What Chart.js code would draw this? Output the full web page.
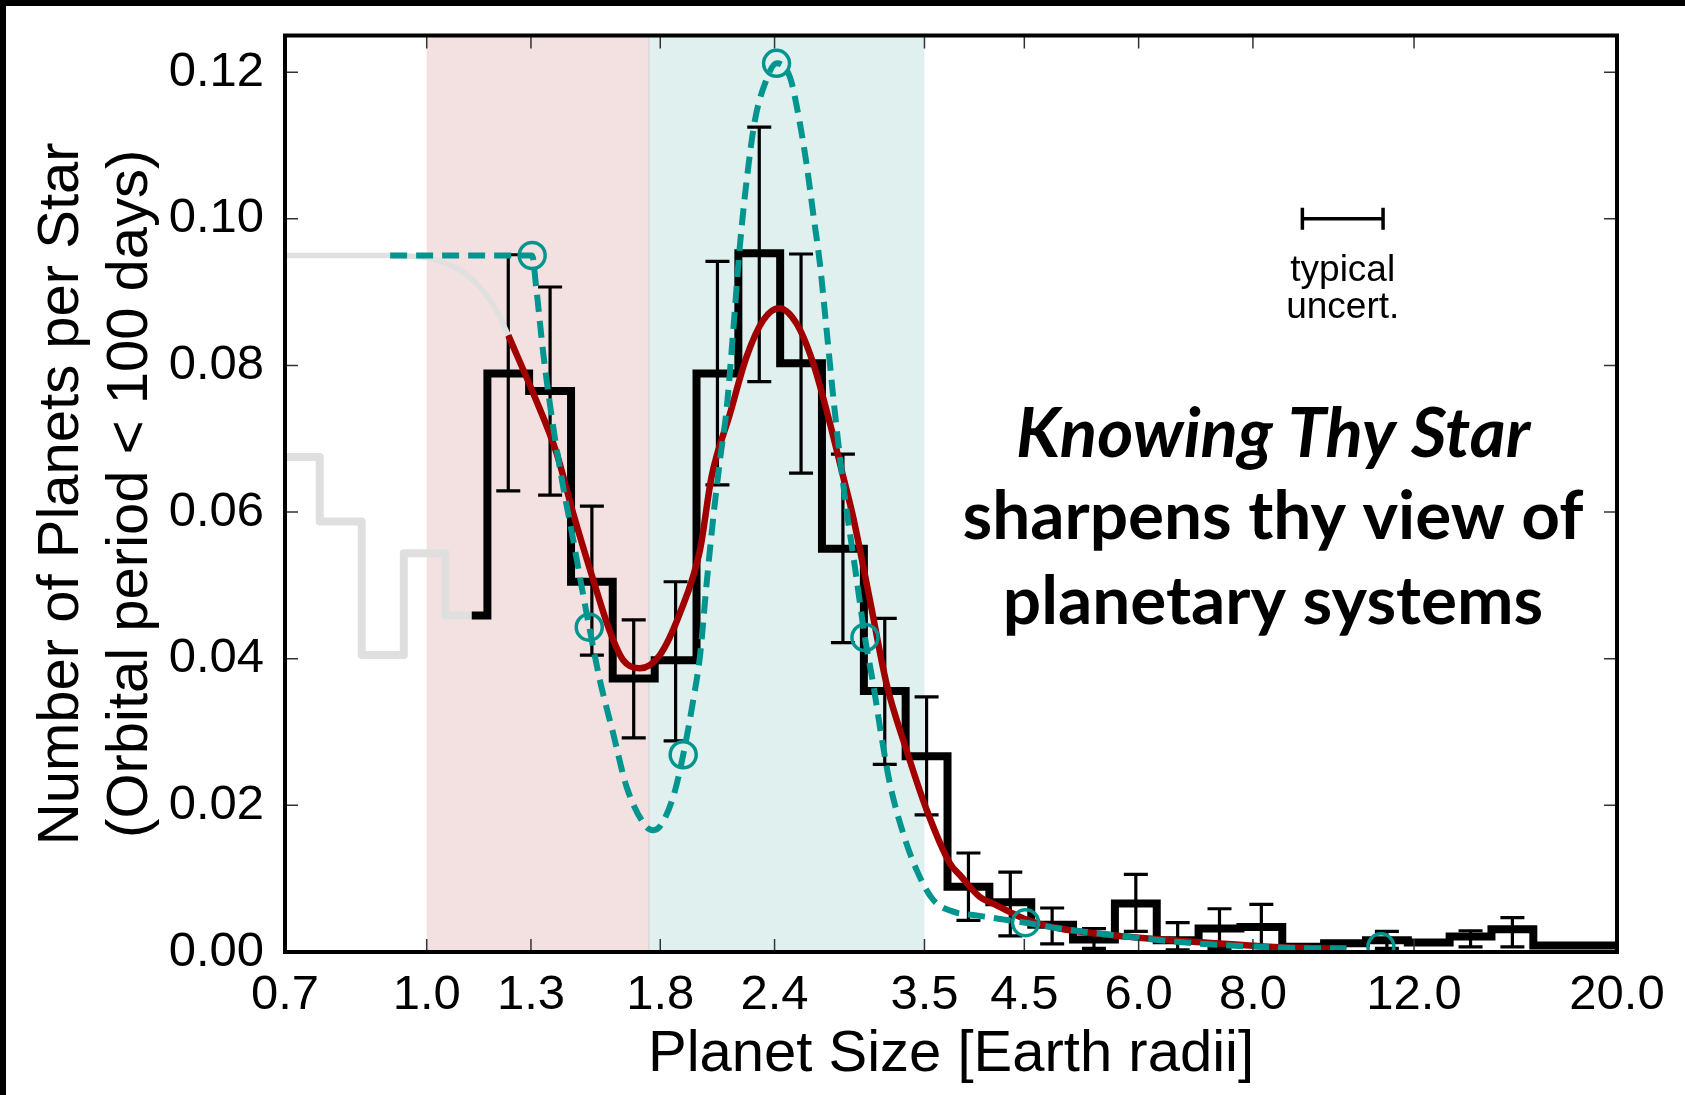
<!DOCTYPE html>
<html>
<head>
<meta charset="utf-8">
<title>Planet size distribution</title>
<script src="https://cdn.jsdelivr.net/npm/chart.js@4.4.1/dist/chart.umd.min.js"></script>
<style>
  html, body { margin: 0; padding: 0; background: #fff; }
  #wrap { width: 1685px; height: 1095px; }
</style>
</head>
<body>
<div id="wrap"><canvas id="sizeChart" width="1685" height="1095"></canvas></div>
<script>
// tick labels
const xTicks = [0.7, 1.0, 1.3, 1.8, 2.4, 3.5, 4.5, 6.0, 8.0, 12.0, 20.0];
const yTicks = [0.00, 0.02, 0.04, 0.06, 0.08, 0.10, 0.12];

// shaded size ranges (super-Earths, sub-Neptunes)
const bandRanges = [[1.0, 1.75], [1.75, 3.5]];
const bandColors = ["#f3e1e1", "#dff0ef"];

// older histogram (grey), bin edges and rates
const greyEdges = [0.7, 0.764, 0.849, 0.944, 1.048, 1.12];
const greyRate = [0.0675, 0.0587, 0.0405, 0.0544, 0.0459];

// CKS histogram (black), bin edges and rates
const blackEdges = [1.12, 1.165, 1.294, 1.438, 1.597, 1.775, 1.972, 2.191, 2.434, 2.704,
  3.005, 3.338, 3.709, 4.121, 4.579, 5.087, 5.652, 6.280, 6.977, 7.752,
  8.613, 9.569, 10.632, 11.813, 13.125, 14.582, 16.202, 18.001, 20.0];
const blackRate = [0.0459, 0.0789, 0.0765, 0.0505, 0.0373, 0.0398, 0.0789, 0.0953, 0.0803, 0.0550,
  0.0356, 0.0267, 0.0089, 0.0068, 0.0037, 0.0017, 0.0066, 0.0016, 0.0032, 0.0034,
  0.0007, 0.0012, 0.0016, 0.0013, 0.0021, 0.0031, 0.0009, 0.0009];
const errLow = [null, 0.0629, 0.0623, 0.0405, 0.0292, 0.0288, 0.0637, 0.0778, 0.0653, 0.0422,
  0.0256, 0.0187, 0.0043, 0.0022, 0.0011, 0.0005, 0.0028, 0.0003, 0.0005, 0.0008,
  null, null, 0.0005, null, 0.0007, 0.0007, null, null];
const errHigh = [null, 0.0951, 0.0907, 0.0608, 0.0453, 0.0505, 0.0942, 0.1125, 0.0952, 0.0679,
  0.0455, 0.0348, 0.0135, 0.0109, 0.0060, 0.0032, 0.0106, 0.0040, 0.0059, 0.0065,
  null, null, 0.0028, null, 0.0029, 0.0047, null, null];

// faded start of the smooth fit
const greyCurveX = [0.7, 0.912, 1.008, 1.087, 1.143, 1.192, 1.228];
const greyCurveY = [0.0950, 0.0950, 0.0946, 0.0930, 0.0907, 0.0875, 0.0841];

// smooth fit (red)
const redX = [1.228, 1.3075, 1.387, 1.446, 1.521, 1.586, 1.640, 1.710, 1.798, 1.891,
  1.989, 2.048, 2.145, 2.237, 2.333, 2.428, 2.537, 2.645, 2.759, 2.853,
  2.925, 3.051, 3.181, 3.346, 3.519, 3.731, 3.826, 4.024, 4.161, 4.526,
  4.921, 5.82, 6.882, 8.14, 9.46, 10.12];
const redY = [0.0841, 0.0762, 0.0680, 0.0598, 0.0507, 0.0437, 0.0398, 0.0387, 0.0405, 0.0462,
  0.0548, 0.0648, 0.0734, 0.0812, 0.0862, 0.0878, 0.0857, 0.0803, 0.0721, 0.0648,
  0.0593, 0.0480, 0.0366, 0.0275, 0.0194, 0.0121, 0.0105, 0.0075, 0.0066, 0.0044,
  0.0032, 0.0021, 0.0014, 0.0008, 0.0005, 0.0004];

// deconvolved spline (teal dashed)
const tealX = [0.912, 1.304, 1.3166, 1.341, 1.375, 1.410, 1.446, 1.477, 1.5055, 1.546,
  1.599, 1.654, 1.732, 1.768, 1.798, 1.860, 1.907, 1.956, 1.989, 2.023,
  2.057, 2.092, 2.127, 2.163, 2.199, 2.237, 2.284, 2.342, 2.412, 2.495,
  2.547, 2.601, 2.645, 2.690, 2.736, 2.782, 2.829, 2.877, 2.938, 3.013,
  3.076, 3.129, 3.208, 3.317, 3.431, 3.578, 3.762, 3.990, 4.232, 4.514,
  4.921, 5.82, 6.882, 8.14, 9.46, 10.12];
const tealY = [0.0950, 0.0950, 0.0909, 0.0816, 0.0716, 0.0634, 0.0562, 0.0498, 0.0443, 0.0371,
  0.0298, 0.0225, 0.0173, 0.0166, 0.0171, 0.0212, 0.0269, 0.0344, 0.0403, 0.0503,
  0.0593, 0.0671, 0.0740, 0.0848, 0.0962, 0.1052, 0.1134, 0.1184, 0.1212, 0.1193,
  0.1143, 0.1075, 0.1007, 0.0939, 0.0848, 0.0757, 0.0675, 0.0603, 0.0525, 0.0429,
  0.0366, 0.0307, 0.0230, 0.0162, 0.0112, 0.0071, 0.0055, 0.0050, 0.0045, 0.0040,
  0.0032, 0.0021, 0.0012, 0.0007, 0.0005, 0.0005];

// spline knots (teal circles)
const knotX = [1.304, 1.5055, 1.907, 2.412, 3.013, 4.514, 11.04];
const knotY = [0.0950, 0.0443, 0.0269, 0.1212, 0.0429, 0.0040, 0.0007];

// typical uncertainty bar
const typicalUncert = [9.06, 11.1];
const typicalUncertY = 0.100;

const FONT = "'Liberation Sans', Arial, Helvetica, sans-serif";
const HEAD_FONT = "Lato, 'Open Sans', sans-serif";
const TEAL = "#00968f";
const RED = "#a00000";

function steps(edges, rates) {
    return edges.map((e, i) => ({ x: e, y: rates[Math.min(i, rates.length - 1)] }));
}
function pairs(xs, ys) {
    return xs.map((v, i) => ({ x: v, y: ys[i] }));
}

const pageBackground = {
    id: "pageBackground",
    beforeDraw(chart) {
        const ctx = chart.ctx;
        ctx.save();
        ctx.fillStyle = "#fff";
        ctx.fillRect(0, 0, chart.width, chart.height);
        ctx.fillStyle = "#000";
        ctx.fillRect(0, 0, chart.width, 6);
        ctx.fillRect(0, 0, 6, chart.height);
        ctx.restore();
    }
};

const bands = {
    id: "bands",
    beforeDatasetsDraw(chart) {
        const { ctx, chartArea: a, scales: { x } } = chart;
        ctx.save();
        bandRanges.forEach((r, i) => {
            const x0 = x.getPixelForValue(r[0]);
            const x1 = x.getPixelForValue(r[1]);
            ctx.fillStyle = bandColors[i];
            ctx.fillRect(x0, a.top, x1 - x0, a.bottom - a.top);
        });
        // faint edge between the two bands
        const xm = x.getPixelForValue(bandRanges[1][0]);
        ctx.strokeStyle = "rgba(0,0,0,0.08)";
        ctx.lineWidth = 1.5;
        ctx.beginPath();
        ctx.moveTo(xm, a.top);
        ctx.lineTo(xm, a.bottom);
        ctx.stroke();
        ctx.restore();
    }
};

// error bars are drawn right after the black histogram
const errorBars = {
    id: "errorBars",
    afterDatasetDraw(chart, args) {
        if (chart.data.datasets[args.index].label !== "CKS") return;
        const { ctx, scales: { x, y } } = chart;
        ctx.save();
        ctx.strokeStyle = "#000";
        ctx.lineWidth = 3.2;
        ctx.beginPath();
        for (let i = 0; i < blackRate.length; i++) {
            if (errLow[i] == null) continue;
            const xc = x.getPixelForValue(Math.sqrt(blackEdges[i] * blackEdges[i + 1]));
            const y0 = y.getPixelForValue(errLow[i]);
            const y1 = y.getPixelForValue(errHigh[i]);
            ctx.moveTo(xc, y0); ctx.lineTo(xc, y1);
            ctx.moveTo(xc - 12, y0); ctx.lineTo(xc + 12, y0);
            ctx.moveTo(xc - 12, y1); ctx.lineTo(xc + 12, y1);
        }
        ctx.stroke();
        ctx.restore();
    }
};

const frame = {
    id: "frame",
    afterDraw(chart) {
        const { ctx, chartArea: a, scales: { x, y } } = chart;
        ctx.save();
        // inward ticks on all four sides
        ctx.strokeStyle = "#333";
        ctx.lineWidth = 1.5;
        ctx.beginPath();
        x.ticks.forEach(t => {
            const px = x.getPixelForValue(t.value);
            ctx.moveTo(px, a.bottom); ctx.lineTo(px, a.bottom - 13);
            ctx.moveTo(px, a.top); ctx.lineTo(px, a.top + 13);
        });
        y.ticks.forEach(t => {
            const py = y.getPixelForValue(t.value);
            ctx.moveTo(a.left, py); ctx.lineTo(a.left + 13, py);
            ctx.moveTo(a.right, py); ctx.lineTo(a.right - 13, py);
        });
        ctx.stroke();
        ctx.strokeStyle = "#000";
        ctx.lineWidth = 4;
        ctx.strokeRect(a.left, a.top, a.right - a.left, a.bottom - a.top);

        // typical uncertainty marker
        const u0 = x.getPixelForValue(typicalUncert[0]);
        const u1 = x.getPixelForValue(typicalUncert[1]);
        const uy = y.getPixelForValue(typicalUncertY);
        ctx.lineWidth = 3.5;
        ctx.beginPath();
        ctx.moveTo(u0, uy); ctx.lineTo(u1, uy);
        ctx.moveTo(u0, uy - 11); ctx.lineTo(u0, uy + 11);
        ctx.moveTo(u1, uy - 11); ctx.lineTo(u1, uy + 11);
        ctx.stroke();
        ctx.fillStyle = "#000";
        ctx.textAlign = "center";
        ctx.textBaseline = "alphabetic";
        ctx.font = "37px " + FONT;
        const um = (u0 + u1) / 2;
        ctx.fillText("typical", um, uy + 62);
        ctx.fillText("uncert.", um, uy + 99);

        // headline text
        const cx = a.left + 988;
        ctx.font = "italic bold 69px " + HEAD_FONT;
        ctx.fillText("Knowing Thy Star", cx, a.top + 421);
        ctx.font = "bold 67.5px " + HEAD_FONT;
        ctx.fillText("sharpens thy view of", cx, a.top + 503);
        ctx.fillText("planetary systems", cx, a.top + 588);
        ctx.restore();
    }
};

new Chart(document.getElementById("sizeChart"), {
    type: "scatter",
    data: {
        datasets: [
            {
                label: "knots",
                data: pairs(knotX, knotY),
                showLine: false,
                pointStyle: "circle",
                pointRadius: 13,
                pointBorderWidth: 3.5,
                pointBorderColor: TEAL,
                pointBackgroundColor: "rgba(0,0,0,0)",
                clip: 0,
                order: 0
            },
            {
                label: "spline",
                data: pairs(tealX, tealY),
                showLine: true,
                borderColor: TEAL,
                borderWidth: 6,
                borderDash: [17, 9],
                pointRadius: 0,
                cubicInterpolationMode: "monotone",
                order: 1
            },
            {
                label: "fit",
                data: pairs(redX, redY),
                showLine: true,
                borderColor: RED,
                borderWidth: 6.5,
                pointRadius: 0,
                cubicInterpolationMode: "monotone",
                order: 2
            },
            {
                label: "fit (faded)",
                data: pairs(greyCurveX, greyCurveY),
                showLine: true,
                borderColor: "#e0e0e0",
                borderWidth: 5.5,
                pointRadius: 0,
                cubicInterpolationMode: "monotone",
                order: 3
            },
            {
                label: "CKS",
                data: steps(blackEdges, blackRate),
                showLine: true,
                stepped: "before",
                borderColor: "#000",
                borderWidth: 8,
                pointRadius: 0,
                order: 4
            },
            {
                label: "previous",
                data: steps(greyEdges, greyRate),
                showLine: true,
                stepped: "before",
                borderColor: "#dfdfdf",
                borderWidth: 8,
                borderJoinStyle: "round",
                pointRadius: 0,
                order: 5
            }
        ]
    },
    options: {
        responsive: false,
        animation: false,
        devicePixelRatio: 1,
        layout: { padding: { top: 35.5, right: 68, bottom: 0, left: 0 } },
        plugins: {
            legend: { display: false },
            tooltip: { enabled: false }
        },
        scales: {
            x: {
                type: "logarithmic",
                min: 0.7,
                max: 20,
                afterBuildTicks: (scale) => { scale.ticks = xTicks.map(v => ({ value: v })); },
                afterFit: (scale) => {
                    scale.height = 143;
                    scale.paddingLeft = 0;
                    scale.paddingRight = 0;
                },
                grid: { display: false, drawTicks: false },
                border: { display: false },
                ticks: {
                    autoSkip: false,
                    maxRotation: 0,
                    minRotation: 0,
                    padding: 14,
                    color: "#000",
                    font: { family: FONT, size: 49 },
                    callback: (v) => Number(v).toFixed(1)
                },
                title: {
                    display: true,
                    text: "Planet Size [Earth radii]",
                    color: "#000",
                    font: { family: FONT, size: 58, lineHeight: 1.2 },
                    padding: { top: 0, bottom: 5 }
                }
            },
            y: {
                min: 0,
                max: 0.125,
                afterBuildTicks: (scale) => { scale.ticks = yTicks.map(v => ({ value: v })); },
                afterFit: (scale) => {
                    scale.width = 285;
                    scale.paddingTop = 0;
                    scale.paddingBottom = 0;
                },
                grid: { display: false, drawTicks: false },
                border: { display: false },
                ticks: {
                    padding: 21,
                    color: "#000",
                    font: { family: FONT, size: 49 },
                    callback: (v) => Number(v).toFixed(2)
                },
                title: {
                    display: true,
                    text: ["Number of Planets per Star", "(Orbital period < 100 days)"],
                    color: "#000",
                    font: { family: FONT, size: 58, lineHeight: 1.2 },
                    padding: { top: 27, bottom: 0 }
                }
            }
        }
    },
    plugins: [pageBackground, bands, errorBars, frame]
});
</script>
</body>
</html>
